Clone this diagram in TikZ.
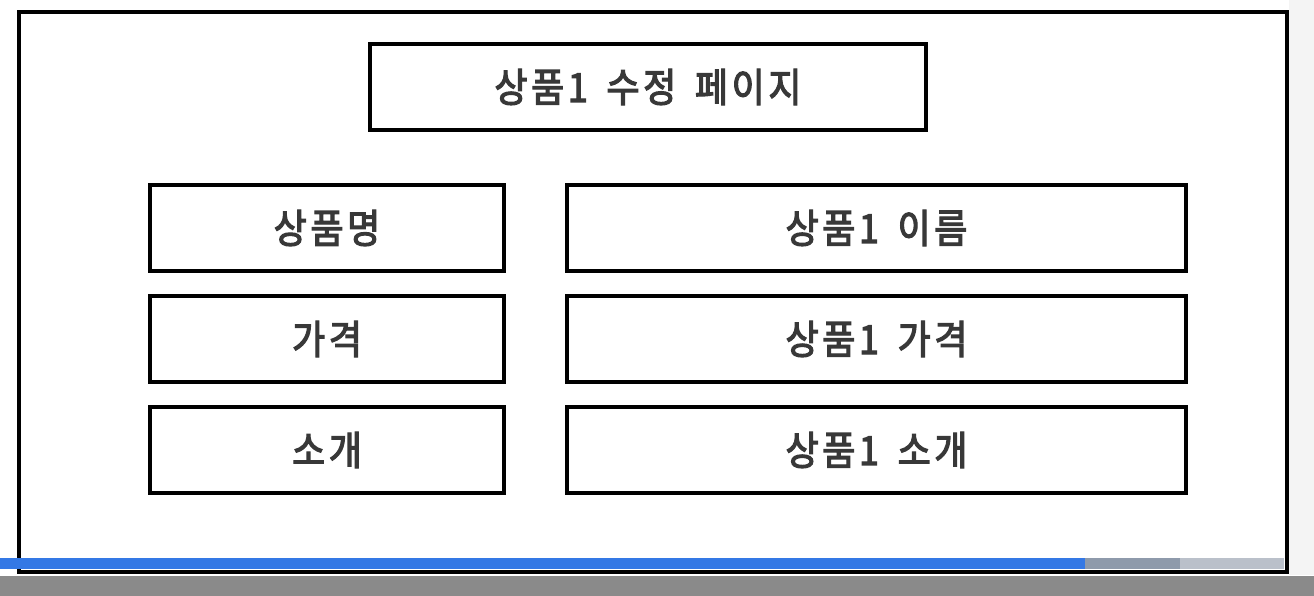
\documentclass[tikz,border=0pt]{standalone}
\usepackage{fontspec}
\newfontfamily\kr[FakeStretch=0.9,LetterSpace=9,WordSpace=1.6,FakeBold=3]{Noto Sans CJK KR}
\definecolor{txt}{HTML}{383838}
\definecolor{barblue}{HTML}{3478E5}
\definecolor{bargray}{HTML}{8E9AAB}
\definecolor{barlight}{HTML}{BAC0CA}
\definecolor{strip}{HTML}{8A8A8A}
\definecolor{edge}{HTML}{F4F4F4}
\begin{document}
\begin{tikzpicture}[x=1pt,y=-1pt,
  box/.style={draw=black, line width=4pt, inner sep=0pt, fill=white,
    font=\kr\fontsize{40}{44}\selectfont, text=txt,
    minimum height=86pt},
  leftbox/.style={box, minimum width=354pt},
  rightbox/.style={box, minimum width=619pt}]
\useasboundingbox (0,0) rectangle (1314,596);
\fill[white] (0,0) rectangle (1314,596);
\fill[edge] (1289,0) rectangle (1314,575);
% outer frame
\draw[line width=4pt] (19,12) rectangle (1287,572);
% title
\node[box, minimum width=556pt] (title) at (648,87) {상품1 수정 페이지};
% rows
\node[leftbox] (l1) at (327,228) {상품명};
\node[leftbox] (l2) at (327,339) {가격};
\node[leftbox] (l3) at (327,450) {소개};
\node[rightbox] (r1) at (876.5,228) {상품1 이름};
\node[rightbox] (r2) at (876.5,339) {상품1 가격};
\node[rightbox] (r3) at (876.5,450) {상품1 소개};
% video progress bar and bottom strip
\fill[barblue] (0,558) rectangle (1085,569);
\fill[bargray] (1085,558) rectangle (1180,569);
\fill[barlight] (1180,558) rectangle (1284,569);
\fill[strip] (0,576) rectangle (1314,596);
\end{tikzpicture}
\end{document}
